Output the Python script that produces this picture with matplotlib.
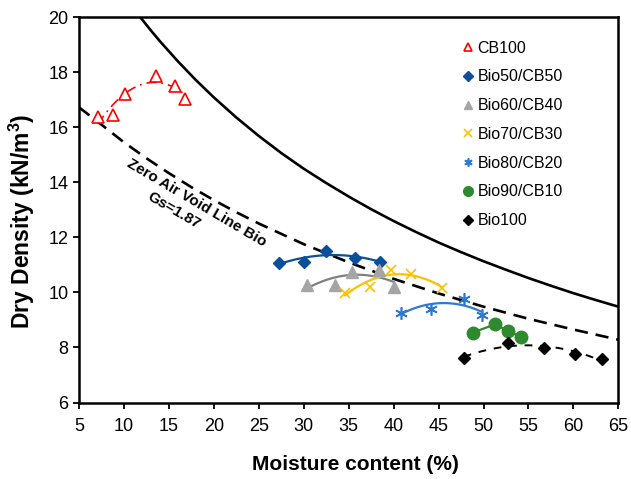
import numpy as np
import matplotlib
matplotlib.use("Agg")
import matplotlib.pyplot as plt
from matplotlib.lines import Line2D

plt.rcParams["font.family"] = ["Liberation Sans", "DejaVu Sans"]

# ---- data ----
cb100_w = [7.1, 8.8, 10.1, 13.6, 15.7, 16.8]
cb100_d = [16.36, 16.44, 17.19, 17.86, 17.5, 17.02]

b50_w = [27.2, 30.0, 32.5, 35.7, 38.5]
b50_d = [11.06, 11.12, 11.5, 11.24, 11.12]

b60_w = [30.4, 33.5, 35.4, 38.4, 40.0]
b60_d = [10.25, 10.25, 10.75, 10.8, 10.2]

b70_w = [34.6, 37.4, 39.7, 41.9, 45.4]
b70_d = [9.99, 10.18, 10.81, 10.66, 10.15]

b80_w = [40.8, 44.2, 47.8, 49.8]
b80_d = [9.26, 9.41, 9.75, 9.18]

b90_w = [48.8, 51.3, 52.7, 54.2]
b90_d = [8.54, 8.84, 8.6, 8.39]

b100_w = [47.8, 52.7, 56.7, 60.2, 63.2]
b100_d = [7.61, 8.17, 7.99, 7.75, 7.57]

# zero air void line, Gs = 1.87 (dashed)
zav_w = [5, 7.5, 10, 12.5, 15, 17.5, 20, 22.5, 25, 30, 35, 40, 45, 50, 55, 60, 65]
zav_d = [16.72, 16.09, 15.45, 14.87, 14.33, 13.82, 13.35, 12.91, 12.5, 11.75, 11.09,
         10.49, 9.96, 9.48, 9.04, 8.65, 8.28]

# upper solid line
sol_w = [11.8, 13, 14, 16, 18, 20, 22.5, 25, 27.5, 30, 32.5, 35, 37.5, 40, 42.5,
         45, 47.5, 50, 52.5, 55, 57.5, 60, 62.5, 65]
sol_d = [20.0, 19.51, 19.12, 18.39, 17.71, 17.08, 16.35, 15.68, 15.06, 14.49, 13.97,
         13.48, 13.02, 12.59, 12.19, 11.81, 11.46, 11.13, 10.82, 10.52, 10.24, 9.97,
         9.72, 9.48]

RED = "#ff0000"
DBLUE = "#0b4f9c"
GRAY = "#a5a5a5"
YEL = "#ffc000"
LBLUE = "#2e78d2"
GREEN = "#2f8a2f"

fig = plt.figure(figsize=(6.31, 4.79), dpi=100)
ax = fig.add_axes([0.1252, 0.1597, 0.8548, 0.8048])


def trend(xs, ys, color, ls="-", lw=1.6):
    c = np.polyfit(xs, ys, 2)
    xx = np.linspace(min(xs), max(xs), 100)
    ax.plot(xx, np.polyval(c, xx), color=color, ls=ls, lw=lw, zorder=2)


ax.plot(sol_w, sol_d, color="black", lw=1.9, zorder=1)
ax.plot(zav_w, zav_d, color="black", lw=1.9, ls=(0, (5, 3)), zorder=1)

trend(cb100_w, cb100_d, RED, ls=(0, (6, 3, 1, 3)), lw=1.2)
trend(b50_w, b50_d, DBLUE)
trend(b60_w, b60_d, "#808080")
trend(b70_w, b70_d, YEL)
trend(b80_w, b80_d, LBLUE)
ax.plot(b90_w, b90_d, color=GREEN, lw=1.6, zorder=2)
trend(b100_w, b100_d, "black", ls=(0, (4, 4)), lw=1.4)

ax.plot(cb100_w, cb100_d, ls="none", marker="^", ms=9, mfc="white", mec=RED, mew=1.2, zorder=3)
ax.plot(b50_w, b50_d, ls="none", marker="D", ms=6.5, color=DBLUE, zorder=3)
ax.plot(b60_w, b60_d, ls="none", marker="^", ms=8.5, color=GRAY, zorder=3)
ax.plot(b70_w, b70_d, ls="none", marker="x", ms=7.5, mew=1.2, color=YEL, zorder=3)
ax.plot(b80_w, b80_d, ls="none", marker=(6, 2, 0), ms=9, mew=1.2, color=LBLUE, zorder=3)
ax.plot(b90_w, b90_d, ls="none", marker="o", ms=9, color=GREEN, zorder=3)
ax.plot(b100_w, b100_d, ls="none", marker="D", ms=6.5, color="black", zorder=3)

ax.text(18.1, 13.25, "Zero Air Void Line Bio", rotation=-30.5, ha="center", va="center",
        fontsize=11, fontweight="bold")
ax.text(15.5, 12.98, "Gs=1.87", rotation=-30.5, ha="center", va="center",
        fontsize=11, fontweight="bold")

ax.set_xlim(5, 65)
ax.set_ylim(6, 20)
ax.set_xticks(range(5, 66, 5))
ax.set_yticks(range(6, 21, 2))
ax.tick_params(direction="out", length=4, width=1.3, labelsize=13)
ax.tick_params(axis="x", pad=7)
for s in ax.spines.values():
    s.set_linewidth(1.8)
ax.set_xlabel("Moisture content (%)", fontsize=15, fontweight="bold")
ax.set_ylabel("Dry Density (kN/m$\\mathregular{^3}$)", fontsize=16.5, fontweight="bold")
ax.xaxis.set_label_coords(0.513, -0.137)
ax.yaxis.set_label_coords(-0.078, 0.47)

leg = [Line2D([0], [0], ls="none", marker="^", ms=6, mfc="white", mec=RED, mew=1.2, label="CB100"),
       Line2D([0], [0], ls="none", marker="D", ms=5, color=DBLUE, label="Bio50/CB50"),
       Line2D([0], [0], ls="none", marker="^", ms=6, color=GRAY, label="Bio60/CB40"),
       Line2D([0], [0], ls="none", marker="x", ms=6, mew=1.2, color=YEL, label="Bio70/CB30"),
       Line2D([0], [0], ls="none", marker=(6, 2, 0), ms=6, mew=1.2, color=LBLUE, label="Bio80/CB20"),
       Line2D([0], [0], ls="none", marker="o", ms=7, color=GREEN, label="Bio90/CB10"),
       Line2D([0], [0], ls="none", marker="D", ms=5, color="black", label="Bio100")]
ax.legend(handles=leg, loc="upper left", bbox_to_anchor=(0.70, 0.955), frameon=False,
          fontsize=11.5, handlelength=0.6, handletextpad=0.3, labelspacing=0.86,
          borderaxespad=0)

fig.savefig("out.png", dpi=100)
